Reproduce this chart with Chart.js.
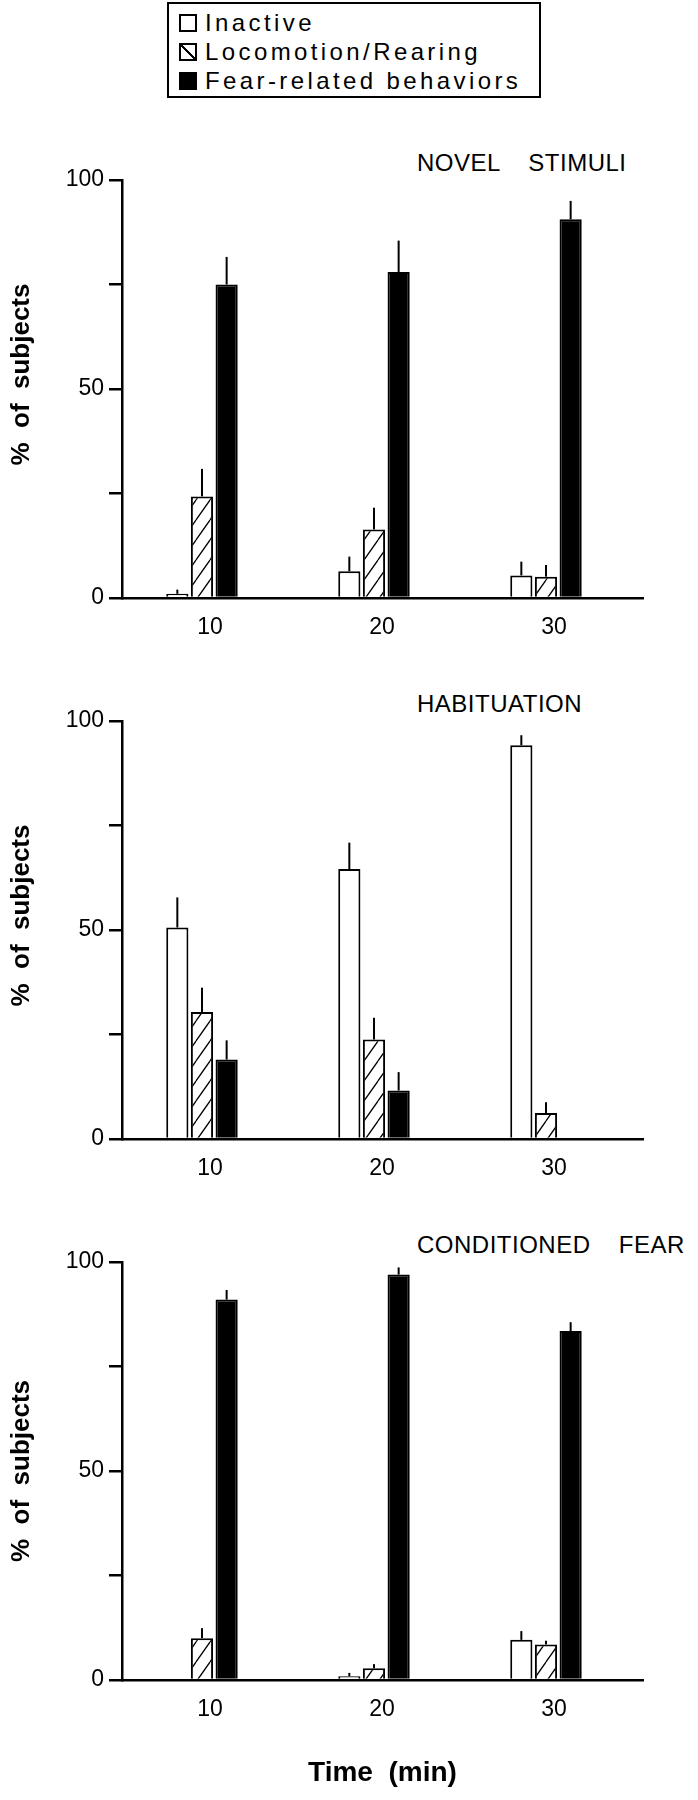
<!DOCTYPE html>
<html lang="en">
<head>
    <meta charset="UTF-8">
    <meta name="viewport" content="width=device-width, initial-scale=1.0">
    <title>% of subjects</title>
    <script src="https://cdn.jsdelivr.net/npm/chart.js@4.4.1/dist/chart.umd.min.js"></script>
    <style>
        body { margin: 0; background: #fff; }
        #page { position: relative; width: 698px; height: 1800px; font-family: 'Liberation Sans', Arial, sans-serif; color: #000; }
        #legend { position: absolute; left: 167px; top: 2px; width: 374px; height: 96px; border: 2px solid #000; box-sizing: border-box; padding-top: 4px; }
        .row { height: 29px; line-height: 29px; font-size: 24px; letter-spacing: 3.4px; white-space: nowrap; }
        .sw { display: inline-block; width: 18px; height: 18px; border: 2px solid #000; box-sizing: border-box; margin: 0 8px 0 10px; vertical-align: -1px; background: #fff; }
        .sw.hatch { background: linear-gradient(to top right, #fff calc(50% - 1px), #000 calc(50% - 1px), #000 calc(50% + 1px), #fff calc(50% + 1px)); }
        .sw.solid { background: #000; }
        .ptitle { position: absolute; left: 417px; font-size: 24px; line-height: 28px; letter-spacing: 0.5px; word-spacing: 7px; white-space: pre; }
        canvas { position: absolute; left: 0; }
    </style>
</head>
<body>
<div id="page">
    <div id="legend"></div>
    <div class="ptitle" id="t0"></div>
    <div class="ptitle" id="t1"></div>
    <div class="ptitle" id="t2"></div>
    <canvas id="c0" width="698" height="518"></canvas>
    <canvas id="c1" width="698" height="518"></canvas>
    <canvas id="c2" width="698" height="578"></canvas>
</div>

<script>
const times = [10, 20, 30]
const seriesNames = ['Inactive', 'Locomotion/Rearing', 'Fear-related behaviors']
const panelTitles = ['NOVEL STIMULI', 'HABITUATION', 'CONDITIONED FEAR']
const yTickLabels = [0, 50, 100]

// novel stimuli
const novelInactive = [1, 6.4, 5.4]
const novelLoco = [24.3, 16.4, 5.1]
const novelFear = [75, 78, 90.6]
const novelInactiveErr = [1, 3.5, 3.3]
const novelLocoErr = [6.6, 5.2, 2.8]
const novelFearErr = [6.6, 7.5, 4.4]

// habituation
const habInactive = [50.6, 64.6, 94.2]
const habLoco = [30.4, 23.8, 6.2]
const habFear = [19, 11.6, 0]
const habInactiveErr = [7.2, 6.3, 2.4]
const habLocoErr = [5.8, 5.2, 2.6]
const habFearErr = [4.6, 4.4, 0]

// conditioned fear
const condInactive = [0, 0.9, 9.6]
const condLoco = [10, 2.8, 8.5]
const condFear = [91, 97, 83.5]
const condInactiveErr = [0, 0.8, 2.1]
const condLocoErr = [2.4, 1, 0.9]
const condFearErr = [2.3, 1.7, 2.1]

const panels = [
    [[novelInactive, novelInactiveErr], [novelLoco, novelLocoErr], [novelFear, novelFearErr]],
    [[habInactive, habInactiveErr], [habLoco, habLocoErr], [habFear, habFearErr]],
    [[condInactive, condInactiveErr], [condLoco, condLocoErr], [condFear, condFearErr]]
]

const canvasTop = [140, 681, 1222]
const titleTop = [149, 690, 1231]
// the axis label sits a little high in the top two panels
const yTitleLead = ['    ', '    ', '']
const tickFont = "'Liberation Sans Narrow', 'Arial Narrow', 'Liberation Sans', Arial"

// diagonal hatch like the original figure
function hatchPattern() {
    let c = document.createElement('canvas')
    c.width = 14
    c.height = 20
    let g = c.getContext('2d')
    g.fillStyle = '#fff'
    g.fillRect(0, 0, 14, 20)
    g.strokeStyle = '#000'
    g.lineWidth = 1.3
    g.beginPath()
    ;[-14, 0, 14].forEach(function(x0) {
        g.moveTo(x0, 20)
        g.lineTo(x0 + 14, 0)
    })
    g.stroke()
    return g.createPattern(c, 'repeat')
}

const fills = ['#fff', hatchPattern(), '#000']

const errorBars = {
    id: 'errorBars',
    afterDatasetsDraw(chart) {
        let ctx = chart.ctx
        let yScale = chart.scales.y
        chart.data.datasets.forEach(function(ds, i) {
            chart.getDatasetMeta(i).data.forEach(function(bar, j) {
                let e = ds.errors[j]
                if (!e) return
                let top = yScale.getPixelForValue(ds.data[j].y + e)
                ctx.save()
                ctx.strokeStyle = '#000'
                ctx.lineWidth = 2
                ctx.beginPath()
                ctx.moveTo(bar.x, bar.y)
                ctx.lineTo(bar.x, top)
                ctx.stroke()
                ctx.restore()
            })
        })
    }
}

// legend
let legend = document.getElementById('legend')
const swClass = ['sw', 'sw hatch', 'sw solid']
seriesNames.forEach(function(name, i) {
    let row = document.createElement('div')
    row.className = 'row'
    let sw = document.createElement('span')
    sw.className = swClass[i]
    row.appendChild(sw)
    row.appendChild(document.createTextNode(name))
    legend.appendChild(row)
})

panels.forEach(function(series, p) {
    let t = document.getElementById('t' + p)
    t.textContent = panelTitles[p].replace(' ', '  ')
    t.style.top = titleTop[p] + 'px'

    let canvas = document.getElementById('c' + p)
    canvas.style.top = canvasTop[p] + 'px'
    let last = p === 2

    new Chart(canvas, {
        type: 'bar',
        data: {
            datasets: series.map(function(s, k) {
                return {
                    label: seriesNames[k],
                    data: times.map(function(t, j) { return { x: t, y: s[0][j] } }),
                    errors: s[1],
                    backgroundColor: fills[k],
                    borderColor: '#000',
                    borderWidth: 2,
                    categoryPercentage: 0.43,
                    barPercentage: 0.9
                }
            })
        },
        options: {
            responsive: false,
            animation: false,
            layout: { padding: { top: 40, right: 55, bottom: 0, left: 0 } },
            plugins: {
                legend: { display: false },
                tooltip: { enabled: false }
            },
            scales: {
                x: {
                    type: 'linear',
                    offset: false,
                    min: 5.35,
                    max: 35.64,
                    afterBuildTicks: function(scale) {
                        scale.ticks = times.map(function(v) { return { value: v } })
                    },
                    afterFit: function(scale) { scale.height = last ? 120 : 60 },
                    grid: { display: false, offset: false },
                    border: { display: true, color: '#000', width: 2.5 },
                    ticks: {
                        color: '#000',
                        padding: 8,
                        labelOffset: 8,
                        font: { family: tickFont, size: 23 }
                    },
                    title: {
                        display: last,
                        text: 'Time  (min)',
                        color: '#000',
                        padding: { top: 0, bottom: 10 },
                        font: { family: "'Liberation Sans', Arial", size: 28, weight: 'bold' }
                    }
                },
                y: {
                    min: 0,
                    max: 100,
                    afterBuildTicks: function(scale) {
                        scale.ticks = [0, 25, 50, 75, 100].map(function(v) { return { value: v } })
                    },
                    afterFit: function(scale) { scale.width = 122 },
                    grid: {
                        display: true,
                        drawOnChartArea: false,
                        drawTicks: true,
                        tickLength: 13,
                        color: '#000',
                        lineWidth: 2.5
                    },
                    border: { display: true, color: '#000', width: 2.5 },
                    ticks: {
                        color: '#000',
                        padding: 5,
                        font: { family: tickFont, size: 23 },
                        callback: function(v) { return yTickLabels.includes(v) ? v : '' }
                    },
                    title: {
                        display: true,
                        text: yTitleLead[p] + '%  of  subjects',
                        color: '#000',
                        padding: { top: 6, bottom: 0 },
                        font: { family: "'Liberation Sans', Arial", size: 26, weight: 'bold' }
                    }
                }
            }
        },
        plugins: [errorBars]
    })
})
</script>
</body>
</html>
